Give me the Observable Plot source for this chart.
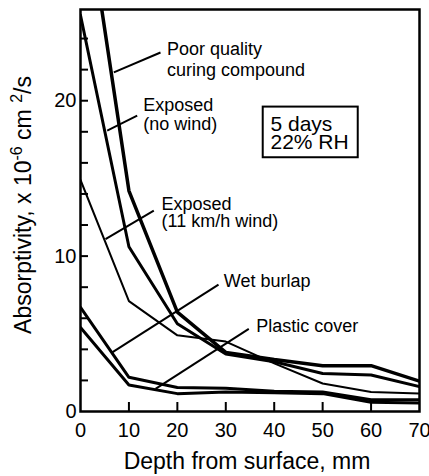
<!DOCTYPE html>
<html><head><meta charset="utf-8">
<script src="https://cdn.jsdelivr.net/npm/d3@7"></script>
<script src="https://cdn.jsdelivr.net/npm/@observablehq/plot@0.6"></script>
<style>body{margin:0;background:#fff}</style>
</head><body><div id="chart"></div>
<script>
// Depth from surface, mm
const depths = [0, 10, 20, 30, 40, 50, 60, 70];
// Absorptivity, x 10^-6 cm^2/s
const poorQuality = [35.0, 14.2, 6.4, 3.8, 3.35, 2.95, 2.95, 1.95];
const exposedNoWind = [25.5, 10.6, 5.65, 3.7, 3.2, 2.45, 2.35, 1.6];
const exposedWind = [14.9, 7.1, 4.9, 4.5, 3.1, 1.8, 1.25, 1.15];
const wetBurlap = [6.7, 2.2, 1.55, 1.5, 1.3, 1.25, 0.75, 0.75];
const plasticCover = [5.4, 1.7, 1.15, 1.25, 1.2, 1.15, 0.6, 0.55];

const seriesNames = ["Poor quality curing compound", "Exposed (no wind)", "Exposed (11 km/h wind)", "Wet burlap", "Plastic cover"];
const seriesValues = [poorQuality, exposedNoWind, exposedWind, wetBurlap, plasticCover];
const seriesWidths = [3.5, 3, 2, 3, 3];

// axis ticks
const xTickLabels = [0, 10, 20, 30, 40, 50, 60, 70];
const xMinorTicks = [10, 20, 30, 40, 50, 60];
const yTickLabels = [0, 10, 20];
const yMinorTicks = [2, 4, 6, 8, 10, 12, 14, 16, 18, 20, 22, 24];

// curve labels (data coords of left edge / cap top)
const labelText = ["Poor quality", "curing compound", "Exposed", "(no wind)", "Exposed", "(11 km/h wind)", "Wet burlap", "Plastic cover"];
const labelX = [17.86, 17.86, 12.95, 12.95, 16.73, 16.73, 29.59, 36.28];
const labelY = [23.75, 22.41, 20.13, 18.97, 13.78, 12.70, 8.86, 5.96];

// leader lines (data coords)
const leaderX1 = [6.88, 5.51, 5.16, 6.55, 15.49];
const leaderY1 = [21.82, 18.07, 11.1, 3.81, 1.46];
const leaderX2 = [16.52, 11.71, 15.14, 28.5, 34.75];
const leaderY2 = [23.1, 19.04, 12.93, 8.17, 5.32];

// condition box
const boxLines = ["5 days", "22% RH"];
const boxLineY = [19.04, 17.86];
const boxTextX = 39.23;
const boxX = [37.73, 57.35];
const boxY = [16.33, 19.59];

const xTitle = "Depth from surface, mm";

const lineMarks = seriesNames.map((name, k) =>
  Plot.line(depths.map((d, i) => ({depth: d, value: seriesValues[k][i]})),
    {x: "depth", y: "value", stroke: "black", strokeWidth: seriesWidths[k], strokeLinejoin: "miter", clip: true})
);
const labels = labelText.map((t, i) => ({text: t, x: labelX[i], y: labelY[i]}));
const leaders = leaderX1.map((x, i) => ({x1: x, y1: leaderY1[i], x2: leaderX2[i], y2: leaderY2[i]}));
const boxRows = boxLines.map((t, i) => ({text: t, y: boxLineY[i]}));

const plot = Plot.plot({
  width: 429, height: 476,
  marginLeft: 80, marginRight: 10, marginTop: 9, marginBottom: 65,
  x: {domain: [0, 70]},
  y: {domain: [0, 25.87]},
  style: {fontFamily: "'Liberation Sans', Arial, sans-serif", fontSize: "20px", color: "black", background: "white"},
  marks: [
    Plot.ruleY(yMinorTicks, {stroke: "black", strokeWidth: 2, insetRight: 331}),
    Plot.ruleX(xMinorTicks, {stroke: "black", strokeWidth: 2, insetTop: 393}),
    Plot.axisY(yTickLabels, {tickSize: 0, tickPadding: 4, fontSize: 20, label: null}),
    Plot.axisX(xTickLabels, {tickSize: 0, tickPadding: 11, fontSize: 20, label: null}),
    ...lineMarks,
    Plot.link(leaders, {x1: "x1", y1: "y1", x2: "x2", y2: "y2", stroke: "black", strokeWidth: 2}),
    Plot.text(labels, {x: "x", y: "y", text: "text", textAnchor: "start", lineAnchor: "top", fontSize: 18, fill: "black"}),
    Plot.rect([{}], {x1: boxX[0], x2: boxX[1], y1: boxY[0], y2: boxY[1], fill: "white", stroke: "black", strokeWidth: 2}),
    Plot.text(boxRows, {x: boxTextX, y: "y", text: "text", textAnchor: "start", lineAnchor: "top", fontSize: 21, fill: "black"}),
    Plot.frame({stroke: "black", strokeWidth: 2.5})
  ]
});

const svg = d3.select(plot);
svg.append("text")
  .attr("x", 247).attr("y", 469)
  .attr("text-anchor", "middle").attr("font-size", 23).attr("fill", "black")
  .text(xTitle);
const yt = svg.append("text")
  .attr("transform", "translate(31,205) rotate(-90)")
  .attr("text-anchor", "middle").attr("font-size", 23).attr("fill", "black");
yt.append("tspan").text("Absorptivity, x 10");
yt.append("tspan").attr("font-size", 16).attr("dy", -9).text("-6");
yt.append("tspan").attr("dy", 9).text(" cm ");
yt.append("tspan").attr("font-size", 16).attr("dy", -9).text("2");
yt.append("tspan").attr("dy", 9).text("/s");

document.getElementById("chart").appendChild(plot);
</script>
</body></html>
